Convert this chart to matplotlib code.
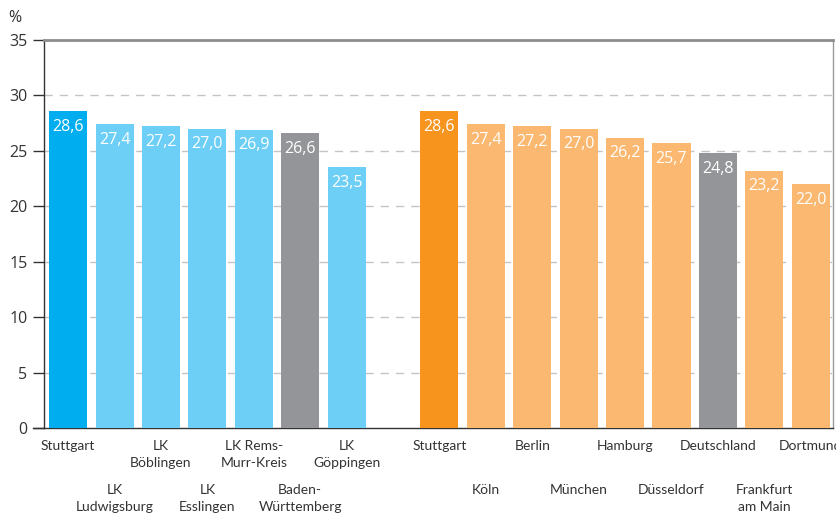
import matplotlib
matplotlib.use("Agg")
import matplotlib.pyplot as plt
import numpy as np

plt.rcParams['font.family'] = ['Lato', 'DejaVu Sans']

left_labels = ["Stuttgart", "LK\nLudwigsburg", "LK\nBöblingen", "LK\nEsslingen",
               "LK Rems-\nMurr-Kreis", "Baden-\nWürttemberg", "LK\nGöppingen"]
left_values = [28.6, 27.4, 27.2, 27.0, 26.9, 26.6, 23.5]
left_colors = ["#00aeef", "#6dcff6", "#6dcff6", "#6dcff6", "#6dcff6", "#939598", "#6dcff6"]

right_labels = ["Stuttgart", "Köln", "Berlin", "München", "Hamburg", "Düsseldorf",
                "Deutschland", "Frankfurt\nam Main", "Dortmund"]
right_values = [28.6, 27.4, 27.2, 27.0, 26.2, 25.7, 24.8, 23.2, 22.0]
right_colors = ["#f7941d", "#fbb870", "#fbb870", "#fbb870", "#fbb870", "#fbb870",
                "#939598", "#fbb870", "#fbb870"]

yticks = [0, 5, 10, 15, 20, 25, 30, 35]

labels = left_labels + right_labels
values = left_values + right_values
colors = left_colors + right_colors
positions = list(range(len(left_values))) + list(range(len(left_values) + 1, len(left_values) + 1 + len(right_values)))

fig = plt.figure(figsize=(8.36, 5.16), dpi=100)
ax = fig.add_axes([44 / 836, 1 - 428 / 516, (833 - 44) / 836, (428 - 40) / 516])

ax.bar(positions, values, width=0.82, color=colors, zorder=3)
ax.set_xlim(-0.52, 16.48)
ax.set_ylim(0, 35)

for y in yticks[1:-1]:
    ax.axhline(y, color="#c4c4c4", lw=1.0, ls=(0, (6, 5)), zorder=1)

for p, v in zip(positions, values):
    ax.annotate(f"{v:.1f}".replace(".", ","), (p, v), xytext=(0, -5.5), textcoords="offset points",
                ha="center", va="top", color="white", fontsize=11.5, zorder=4,
                family=["Open Sans", "DejaVu Sans"])

ax.set_yticks(yticks)
ax.set_yticklabels([str(t) for t in yticks], fontsize=11.5, color="#333333",
                   family=["Open Sans", "DejaVu Sans"])
ax.tick_params(axis="y", direction="out", length=8, width=1, color="#333333", pad=4)
ax.set_xticks([])

for i, (p, lab) in enumerate(zip(positions, labels)):
    row = i if i < len(left_values) else i - len(left_values)
    y = -8.5 if row % 2 == 0 else -40.0
    ax.annotate(lab, (p, 0), xytext=(0, y), textcoords="offset points",
                ha="center", va="top", fontsize=10, color="#333333",
                linespacing=1.5, annotation_clip=False)

ax.spines["top"].set_color("#8c8c8c")
ax.spines["top"].set_linewidth(2.0)
ax.spines["left"].set_color("#333333")
ax.spines["left"].set_linewidth(1.0)
ax.spines["bottom"].set_color("#333333")
ax.spines["bottom"].set_linewidth(1.0)
ax.spines["right"].set_color("#9a9a9a")
ax.spines["right"].set_linewidth(1.0)

# extend bottom line to left like a tick
ax.plot([-0.52 - 11 / 46.4, -0.52], [0, 0], color="#333333", lw=1.0, clip_on=False)

fig.text(8 / 836, 1 - 18 / 516, "%", fontsize=11.5, color="#333333", va="center", ha="left",
         family=["Open Sans", "DejaVu Sans"])

fig.savefig("out.png", dpi=100)
